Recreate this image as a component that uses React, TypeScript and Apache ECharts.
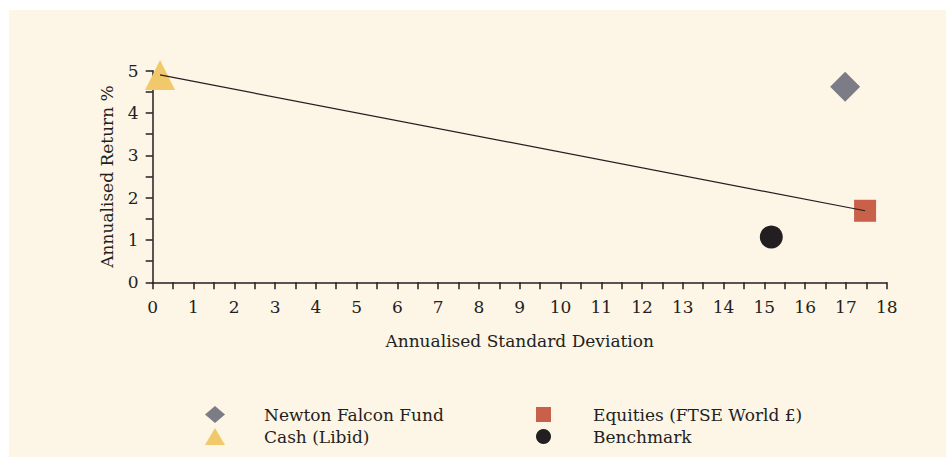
import React, { useEffect, useRef } from "react";
import * as echarts from "echarts";

const seriesNames = ["Newton Falcon Fund", "Equities (FTSE World £)", "Cash (Libid)", "Benchmark"];
const stdDev = [16.98, 17.47, 0.18, 15.17];
const annReturn = [4.62, 1.69, 4.9, 1.07];
const symbols = ["diamond", "rect", "triangle", "circle"];
const colors = ["#7b7c86", "#c9604a", "#f2c96a", "#231f20"];
const symbolSizes = [30, 22, 30, 23];

const lineStdDev = [0.18, 17.47];
const lineReturn = [4.9, 1.69];

const FONT = "DejaVu Serif";
const INK = "#231f20";

export default function App() {
  const ref = useRef<HTMLDivElement>(null);
  useEffect(() => {
    if (!ref.current) return;
    const chart = echarts.init(ref.current, undefined, { renderer: "svg" });
    const scatterSeries = seriesNames.map((name, i) => ({
      name,
      type: "scatter",
      symbol: symbols[i],
      symbolSize: symbolSizes[i],
      itemStyle: { color: colors[i], opacity: 1 },
      data: [[stdDev[i], annReturn[i]]],
      z: 2,
    }));
    const legendPos = [
      { left: 191, top: 391, w: 20, h: 17, pad: 34 },
      { left: 522, top: 391, w: 15, h: 15, pad: 37 },
      { left: 191, top: 413, w: 20, h: 17, pad: 34 },
      { left: 522, top: 413, w: 15, h: 15, pad: 37 },
    ];
    const legends = seriesNames.map((name, i) => ({
      data: [{ name, icon: symbols[i] }],
      left: legendPos[i].left,
      top: legendPos[i].top,
      itemWidth: legendPos[i].w,
      itemHeight: legendPos[i].h,
      selectedMode: false,
      textStyle: {
        fontFamily: FONT,
        fontSize: 17,
        color: INK,
        padding: [0, 0, 0, legendPos[i].pad],
      },
    }));
    chart.setOption({
      animation: false,
      backgroundColor: "#fdf5e6",
      textStyle: { fontFamily: FONT },
      grid: { left: 143.7, top: 60.7, width: 734, height: 211.6 },
      legend: legends,
      xAxis: {
        type: "value",
        min: 0,
        max: 18,
        interval: 1,
        name: "Annualised Standard Deviation",
        nameLocation: "middle",
        nameGap: 50,
        nameTextStyle: { fontFamily: FONT, fontSize: 17, color: INK },
        axisLine: { show: true, lineStyle: { color: INK, width: 1.5 } },
        axisTick: { show: true, inside: false, length: 7, lineStyle: { color: INK, width: 1.5 } },
        minorTick: { show: true, splitNumber: 2, length: 7, lineStyle: { color: INK, width: 1.5 } },
        axisLabel: { fontFamily: FONT, fontSize: 17, color: INK, margin: 16 },
        splitLine: { show: false },
      },
      yAxis: {
        type: "value",
        min: 0,
        max: 5,
        interval: 1,
        name: "Annualised Return %",
        nameLocation: "middle",
        nameGap: 37,
        nameTextStyle: { fontFamily: FONT, fontSize: 17, color: INK },
        axisLine: { show: true, lineStyle: { color: INK, width: 1.5 } },
        axisTick: { show: true, inside: false, length: 7, lineStyle: { color: INK, width: 1.5 } },
        minorTick: { show: true, splitNumber: 2, length: 7, lineStyle: { color: INK, width: 1.5 } },
        axisLabel: { fontFamily: FONT, fontSize: 17, color: INK, margin: 14 },
        splitLine: { show: false },
      },
      series: [
        ...scatterSeries,
        {
          name: "line",
          type: "line",
          data: lineStdDev.map((x, i) => [x, lineReturn[i]]),
          showSymbol: false,
          symbol: "none",
          lineStyle: { color: INK, width: 1.2 },
          z: 5,
        },
      ],
    });
    return () => chart.dispose();
  }, []);
  return (
    <div style={{ position: "fixed", left: 0, top: 0, width: 946, height: 457, background: "#ffffff" }}>
      <div ref={ref} style={{ position: "absolute", left: 9, top: 10, width: 937, height: 447 }} />
    </div>
  );
}
